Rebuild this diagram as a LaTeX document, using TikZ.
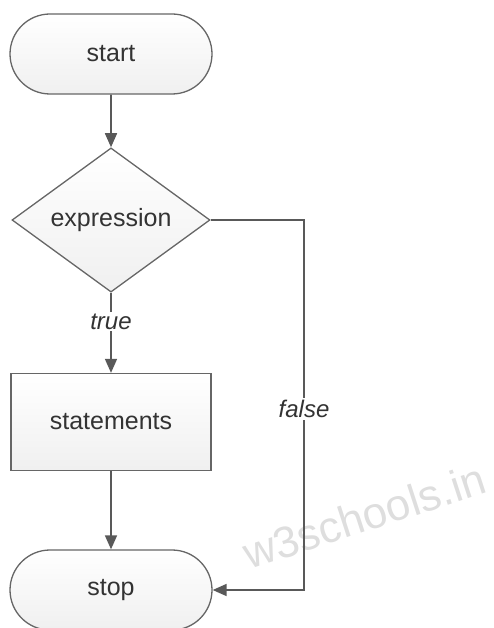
\documentclass[tikz,border=0pt]{standalone}
\usepackage{fontspec}
\setmainfont{Liberation Sans}
\usetikzlibrary{shapes.geometric,shapes.misc,arrows.meta}

\tikzset{
  box/.style = {draw=black!60, line width=1.3pt, top color=white, bottom color=black!6,
                font=\fontsize{25}{28}\selectfont, text=black!80, inner sep=0pt},
  term/.style = {box, rounded rectangle, minimum width=202pt, minimum height=80pt},
  test/.style = {box, diamond, minimum width=198pt, minimum height=119pt},
  proc/.style = {box, rectangle, minimum width=200pt, minimum height=97pt},
  flow/.style = {draw=black!65, line width=1.6pt, -{Triangle[length=14pt,width=12pt]}},
  lbl/.style = {fill=white, inner sep=2pt, font=\fontsize{24}{28}\selectfont\itshape, text=black!80}
}

\begin{document}
\begin{tikzpicture}[x=1pt, y=-1pt]
\useasboundingbox (0,0) rectangle (494,628);
% watermark
\node[rotate=18, text=black!13, font=\fontsize{44}{48}\selectfont] (wm) at (364,516) {w3schools.in};
\node[term] (start) at (111,54) {start};
\node[test] (cond) at (111,220) {expression};
\node[proc] (stmt) at (111,422) {statements};
\node[term] (stop) at (111,590) {stop};
\coordinate (fc) at (304,590);
\draw[flow] (start) -- (cond);
\draw[flow] (cond) -- (stmt) node[lbl, pos=.36] (tl) {true};
\draw[flow] (stmt) -- (stop);
\draw[flow] (cond.east) -| (fc) node[lbl, pos=.755] (fl) {false} -- (stop.east);
\end{tikzpicture}
\end{document}
